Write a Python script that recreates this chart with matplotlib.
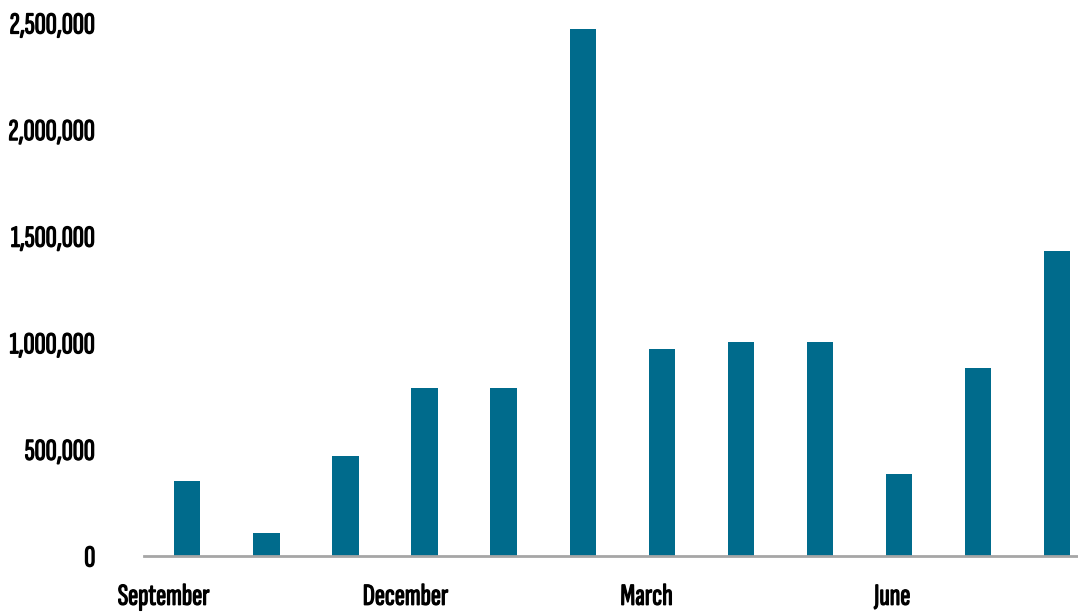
import matplotlib
matplotlib.use("Agg")
import matplotlib.pyplot as plt
import matplotlib.patheffects as pe
from matplotlib.ticker import FuncFormatter

# Monthly totals, September through August
months = ["September", "October", "November", "December", "January", "February",
          "March", "April", "May", "June", "July", "August"]
values = [352000, 108000, 470000, 790000, 790000, 2470000,
          972000, 1004000, 1004000, 385000, 882000, 1430000]
yticks = [0, 500000, 1000000, 1500000, 2000000, 2500000]

barColor = "#006b8c"
plt.rcParams["font.family"] = ["Sofia Sans Extra Condensed", "DejaVu Sans"]

fig = plt.figure(figsize=(10.78, 6.12), dpi=100)
ax = fig.add_axes([144 / 1078, 56 / 612, 934 / 1078, 533 / 612])

x = list(range(len(months)))
ax.bar(x, values, width=0.33, color=barColor, zorder=2)

ax.set_xlim(-0.55, 11.27)
ax.set_ylim(0, 2500000)

# Only every third month gets a label, nudged a bit left of its bar
labelIdx = [0, 3, 6, 9]
labelShift = [-0.30, -0.24, -0.19, -0.08]
ax.set_xticks([i + s for i, s in zip(labelIdx, labelShift)])
ax.set_xticklabels([months[i] for i in labelIdx])
ax.set_yticks(yticks)
ax.yaxis.set_major_formatter(FuncFormatter(lambda v, p: "{:,.0f}".format(v)))

ax.tick_params(axis="both", length=0, labelsize=22)
ax.tick_params(axis="y", pad=35)
ax.tick_params(axis="x", pad=20)
# the condensed face only ships in one weight, so thicken it with a stroke
heavy = [pe.withStroke(linewidth=0.9, foreground="black")]
for lbl in ax.get_xticklabels() + ax.get_yticklabels():
    lbl.set_fontweight("bold")
    lbl.set_path_effects(heavy)

for side in ["top", "right", "left"]:
    ax.spines[side].set_visible(False)
ax.spines["bottom"].set_color("#a6a6a6")
ax.spines["bottom"].set_linewidth(2)
ax.spines["bottom"].set_zorder(3)

fig.savefig("out.png", dpi=100)
